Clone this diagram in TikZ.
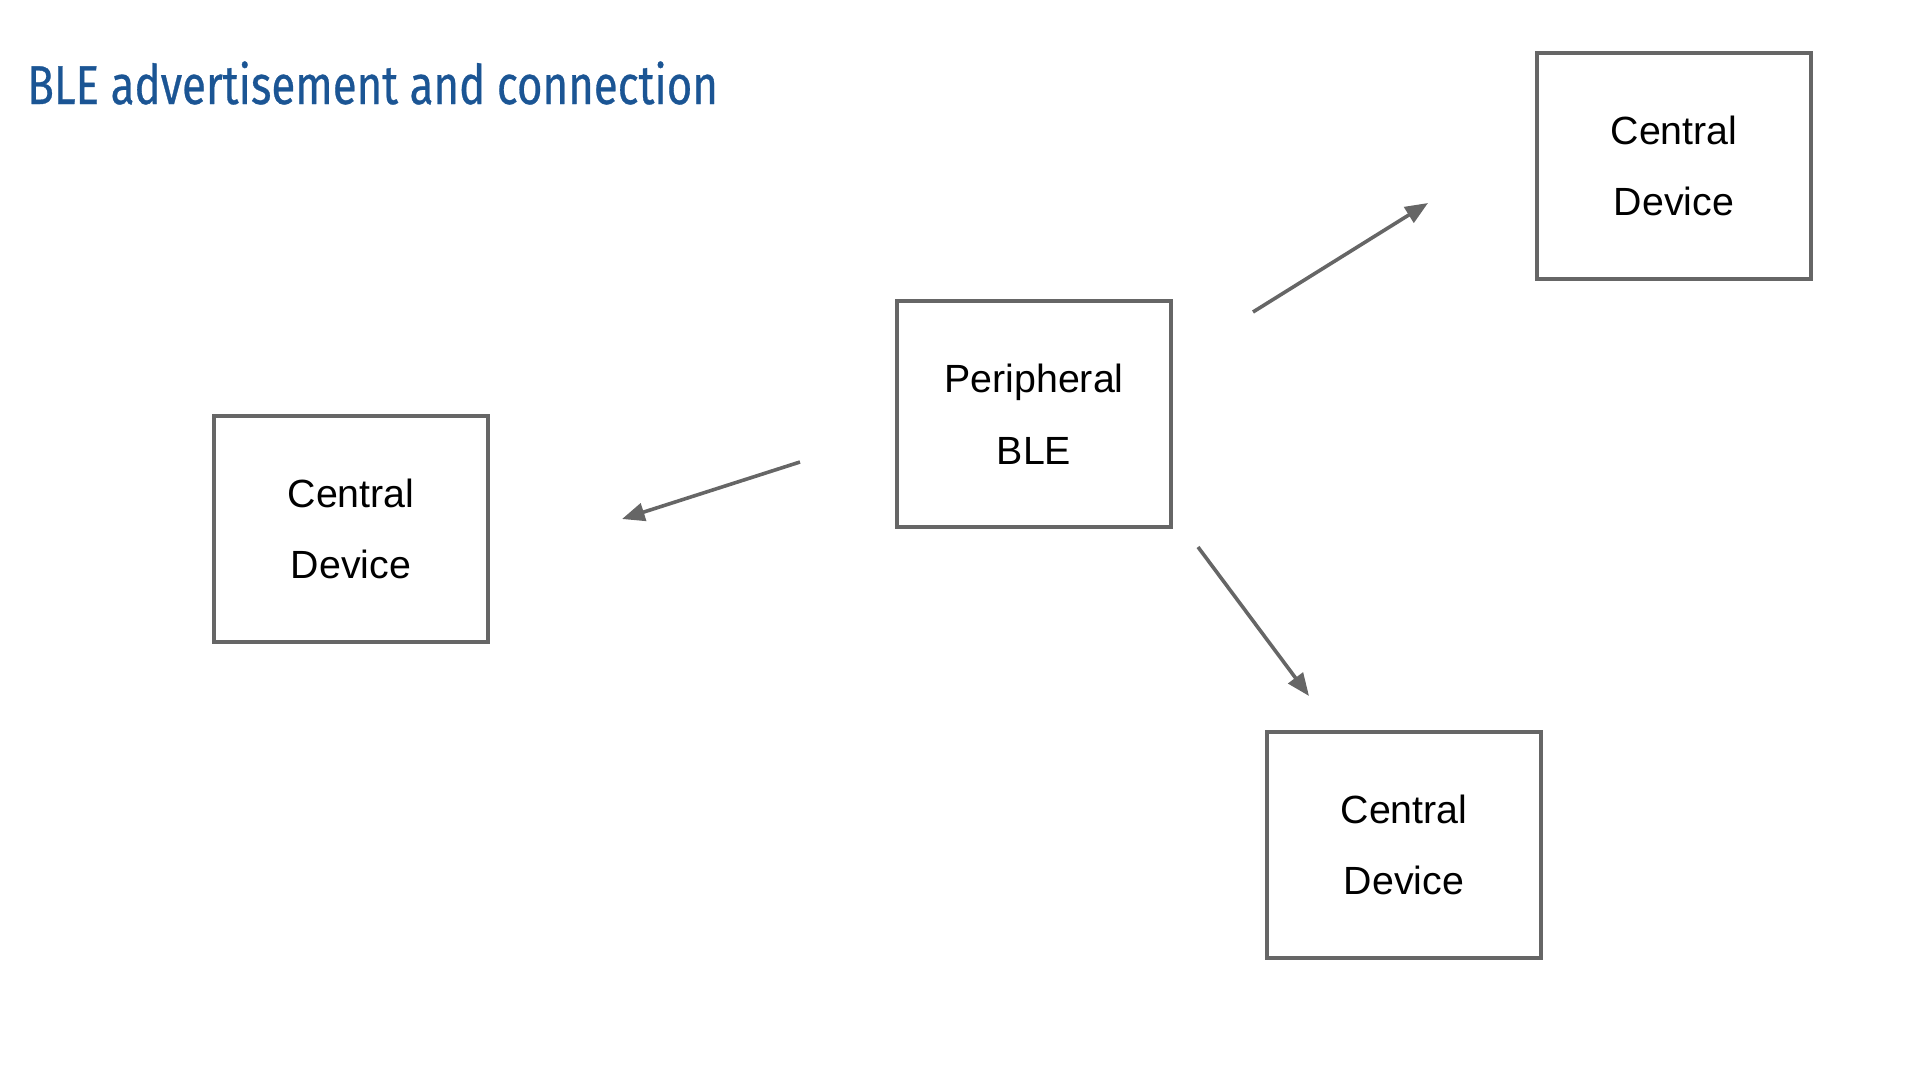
\documentclass[tikz,border=0pt]{standalone}
\usepackage{fontspec}
\setmainfont{Liberation Sans}
\newfontfamily\titlefont[FakeBold=0.6]{Fira Sans}
\usetikzlibrary{arrows.meta}
\definecolor{titleblue}{RGB}{27,85,148}
\definecolor{linegray}{RGB}{102,102,102}

\begin{document}
\begin{tikzpicture}[x=0.75pt, y=-0.75pt,
   device/.style={draw=linegray, line width=3pt, minimum width=206pt, minimum height=169.5pt,
      inner sep=0pt, align=center, font=\fontsize{29.5}{53.8}\selectfont},
   signal/.style={draw=linegray, line width=2.7pt, -{Triangle[length=17pt,width=13.5pt]}}]
\useasboundingbox (0,0) rectangle (1908,1064);

\node[anchor = base west, text = titleblue, inner sep = 0pt] (title) at (27,104)
   {\resizebox{518pt}{\height}{\titlefont\fontsize{41}{48}\selectfont BLE advertisement and connection}};

\node[device] (peripheral) at (1034,414) {Peripheral\\BLE};
\node[device] (centralL) at (351,529) {Central\\Device};
\node[device] (centralR) at (1674,166) {Central\\Device};
\node[device] (centralB) at (1404,845) {Central\\Device};

% advertising to the three centrals
\coordinate (fromL) at (800,462);  \coordinate (toL) at (622,519);
\coordinate (fromR) at (1253,312); \coordinate (toR) at (1428,203);
\coordinate (fromB) at (1198,547); \coordinate (toB) at (1309,696);

\foreach \side in {L,R,B}
   \draw[signal] (from\side) -- (to\side);
\end{tikzpicture}
\end{document}
